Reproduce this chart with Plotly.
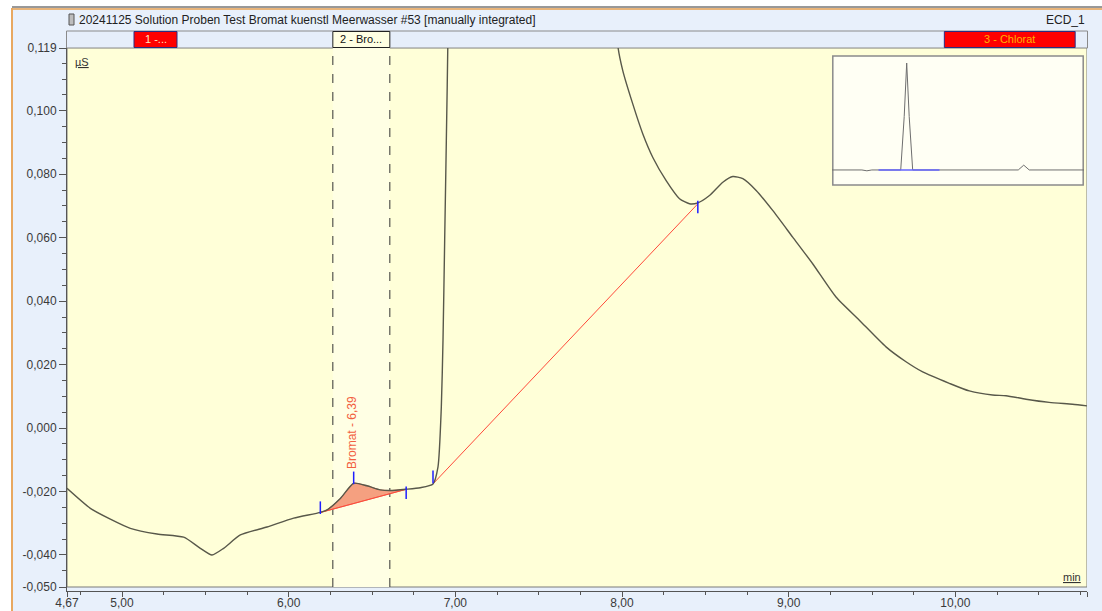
import plotly.graph_objects as go

# ---------------- data ----------------
time_min = [4.67, 4.81, 4.93, 5.05, 5.21, 5.37, 5.47, 5.54, 5.61, 5.71, 5.87, 6.03,
            6.19, 6.23, 6.31, 6.39, 6.47, 6.55, 6.61, 6.705, 6.79, 6.866, 6.896,
            6.916, 6.926, 6.936, 6.946, 6.955, 7.0, 7.1, 7.3, 7.5, 7.7, 7.9, 7.975,
            8.005, 8.065, 8.125, 8.185, 8.265, 8.345, 8.405, 8.455, 8.525, 8.605,
            8.665, 8.725, 8.805, 8.904, 9.024, 9.144, 9.284, 9.424, 9.584, 9.704,
            9.804, 9.964, 10.084, 10.223, 10.304, 10.424, 10.563, 10.703, 10.79]
signal_uS = [-0.0190, -0.0253, -0.0287, -0.0316, -0.0334, -0.0344, -0.0379, -0.0400,
             -0.0379, -0.0337, -0.0312, -0.0284, -0.0266, -0.0258, -0.0222, -0.0174,
             -0.0182, -0.0195, -0.0197, -0.0193, -0.0188, -0.0176, -0.0122, 0.0067,
             0.0277, 0.0591, 0.0906, 0.121, 0.4, 1.0, 1.6, 1.4, 0.6, 0.2, 0.1205,
             0.1126, 0.1021, 0.0927, 0.0853, 0.0780, 0.0723, 0.0707, 0.0710, 0.0733,
             0.0775, 0.0793, 0.0786, 0.0749, 0.0686, 0.0602, 0.0518, 0.0413, 0.0340,
             0.0256, 0.0209, 0.0177, 0.0141, 0.0117, 0.0104, 0.0102, 0.0091, 0.0081,
             0.0075, 0.0070]

# integration of Bromat
bromat_start = (6.19, -0.0266)
bromat_end = (6.705, -0.0193)
bromat_label = "Bromat - 6,39"
bromat_label_pos = (6.379, -0.0013)
# baseline of next peak
next_start = (6.866, -0.0176)
next_end = (8.455, 0.0707)

# peak marks (start, max, end, next start, next end)
mark_t = [6.19, 6.39, 6.705, 6.866, 8.455]
mark_v = [-0.0251, -0.0157, -0.0204, -0.0154, 0.0697]

# peak windows
win_names = ["1 -...", "2 - Bro...", "3 - Chlorat"]
win_start = [5.072, 6.265, 9.934]
win_end = [5.330, 6.607, 10.719]

# axes
x_range = [4.67, 10.79]
x_tickvals = [4.67, 5, 6, 7, 8, 9, 10, 10.79]
x_ticktext = ["4,67", "5,00", "6,00", "7,00", "8,00", "9,00", "10,00", "10,79"]
x_minor = [4.75 + 0.25 * i for i in range(25)]
y_top, y_bottom = 0.1198, -0.0501
y_tickvals = [0.1198, 0.1, 0.08, 0.06, 0.04, 0.02, 0.0, -0.02, -0.04, -0.0501]
y_ticktext = ["0,119", "0,100", "0,080", "0,060", "0,040", "0,020", "0,000",
              "-0,020", "-0,040", "-0,050"]
y_minor = [round(-0.045 + 0.005 * i, 4) for i in range(33)]

# overview inset (full chromatogram)
inset_t = [0, 3.0, 3.5, 4.0, 6.9, 7.25, 7.5, 7.75, 8.1, 18.7, 19.25, 19.8, 25.3]
inset_v = [0, 0, -0.08, 0, 0, 5, 10, 5, 0, 0, 0.45, 0, 0]
inset_window = [4.67, 10.79]

title = "20241125 Solution Proben Test Bromat kuenstl Meerwasser #53 [manually integrated]"
detector = "ECD_1"

# ---------------- layout helpers ----------------
W, H = 1102, 611
ML, MR, MT, MB = 67, 15, 48, 20
PW, PH = W - ML - MR, H - MT - MB


def px_x(px):
    return (px - ML) / PW


def px_y(py):
    return (H - MB - py) / PH


FONT = "Liberation Sans, Arial, sans-serif"
TXT = "#3a3a3a"
CURVE = "#58584a"

fig = go.Figure()

# Bromat area fill
seg = [(t, v) for t, v in zip(time_min, signal_uS) if bromat_start[0] <= t <= bromat_end[0]]
fx = [p[0] for p in seg] + [bromat_end[0], bromat_start[0]]
fy = [p[1] for p in seg] + [bromat_end[1], bromat_start[1]]
fig.add_trace(go.Scatter(x=fx, y=fy, fill="toself", fillcolor="#F5A080",
                         line=dict(color="#E8705A", width=1, shape="spline", smoothing=0.5),
                         mode="lines", hoverinfo="skip", showlegend=False))
# baselines
fig.add_trace(go.Scatter(x=[bromat_start[0], bromat_end[0]], y=[bromat_start[1], bromat_end[1]],
                         mode="lines", line=dict(color="#FF4A3A", width=1), showlegend=False))
fig.add_trace(go.Scatter(x=[next_start[0], next_end[0]], y=[next_start[1], next_end[1]],
                         mode="lines", line=dict(color="#FF4A3A", width=1), showlegend=False))
# chromatogram
fig.add_trace(go.Scatter(x=time_min, y=signal_uS, mode="lines",
                         line=dict(color=CURVE, width=1.4, shape="spline", smoothing=0.6),
                         showlegend=False))
# peak marks
fig.add_trace(go.Scatter(x=mark_t, y=mark_v, mode="markers",
                         marker=dict(symbol="line-ns", size=9,
                                     line=dict(color="#1E1EFF", width=1.5)),
                         showlegend=False))

# inset
fig.add_trace(go.Scatter(x=inset_t, y=inset_v, mode="lines", xaxis="x2", yaxis="y2",
                         line=dict(color="#6e6e6e", width=1), showlegend=False))
fig.add_trace(go.Scatter(x=inset_window, y=[0, 0], mode="lines", xaxis="x2", yaxis="y2",
                         line=dict(color="#6464FF", width=1.5), showlegend=False))

shapes = []
# panel background and frame lines
shapes.append(dict(type="rect", xref="paper", yref="paper", x0=px_x(12), x1=px_x(1102),
                   y0=px_y(611), y1=px_y(8), fillcolor="#E8F0FB", line=dict(width=0),
                   layer="below"))
shapes.append(dict(type="line", xref="paper", yref="paper", x0=px_x(12), x1=px_x(1102),
                   y0=px_y(7), y1=px_y(7), line=dict(color="#333333", width=1), layer="below"))
shapes.append(dict(type="line", xref="paper", yref="paper", x0=px_x(12), x1=px_x(1102),
                   y0=px_y(9), y1=px_y(9), line=dict(color="#E8B47A", width=2), layer="below"))
shapes.append(dict(type="line", xref="paper", yref="paper", x0=px_x(12), x1=px_x(12),
                   y0=px_y(611), y1=px_y(8), line=dict(color="#E8A860", width=2), layer="below"))
# title icon
shapes.append(dict(type="rect", xref="paper", yref="paper", x0=px_x(69), x1=px_x(74),
                   y0=px_y(25), y1=px_y(14), fillcolor="#BDBDBD",
                   line=dict(color="#555555", width=1), layer="below"))
# peak window band
shapes.append(dict(type="rect", xref="paper", yref="paper", x0=px_x(66.5), x1=px_x(1087.5),
                   y0=px_y(48), y1=px_y(31), fillcolor="#E6EEFA",
                   line=dict(color="#8a8a8a", width=1), layer="below"))
win_fill = ["#FF0000", "#FFFFE2", "#FF0000"]
win_line = ["#2c2c80", "#222222", "#2c2c80"]
for s, e, fc, lc in zip(win_start, win_end, win_fill, win_line):
    shapes.append(dict(type="rect", xref="x", yref="paper", x0=s, x1=e,
                       y0=px_y(47.5), y1=px_y(31.5), fillcolor=fc,
                       line=dict(color=lc, width=1), layer="below"))
# plot area
shapes.append(dict(type="rect", xref="x", yref="y", x0=x_range[0], x1=x_range[1],
                   y0=y_bottom, y1=y_top, fillcolor="#FFFFD8",
                   line=dict(color="#7a7a7a", width=1), layer="below"))
shapes.append(dict(type="rect", xref="x", yref="y", x0=win_start[1], x1=win_end[1],
                   y0=y_bottom, y1=y_top, fillcolor="#FFFFE4", line=dict(width=0),
                   layer="below"))
for xv in (win_start[1], win_end[1]):
    shapes.append(dict(type="line", xref="x", yref="y", x0=xv, x1=xv, y0=y_bottom, y1=y_top,
                       line=dict(color="#333333", width=1, dash="dash"), layer="below"))
# inset box
shapes.append(dict(type="rect", xref="x2", yref="y2", x0=0.08, x1=25.22, y0=-1.4, y1=10.65,
                   fillcolor="#FFFFF4", line=dict(color="#8a8a8a", width=1.5), layer="below"))

annotations = [
    dict(text=title, x=px_x(77), y=px_y(20), xref="paper", yref="paper", xanchor="left",
         yanchor="middle", showarrow=False, font=dict(size=12, color="#222222", family=FONT)),
    dict(text=detector, x=px_x(1087), y=px_y(20), xref="paper", yref="paper", xanchor="right",
         yanchor="middle", showarrow=False, font=dict(size=12, color="#222222", family=FONT)),
    dict(text="<u>µS</u>", x=px_x(73), y=px_y(62), xref="paper", yref="paper", xanchor="left",
         yanchor="middle", showarrow=False, font=dict(size=11, color="#333333", family=FONT)),
    dict(text="<u>min</u>", x=px_x(1083), y=px_y(577), xref="paper", yref="paper",
         xanchor="right", yanchor="middle", showarrow=False,
         font=dict(size=11, color="#333333", family=FONT)),
    dict(text=bromat_label, x=bromat_label_pos[0], y=bromat_label_pos[1], xref="x", yref="y",
         textangle=-90, xanchor="center", yanchor="middle", showarrow=False,
         font=dict(size=12, color="#F2603F", family=FONT)),
]
win_text_col = ["#FFE6C0", "#111111", "#FFB000"]
for name, s, e, c in zip(win_names, win_start, win_end, win_text_col):
    annotations.append(dict(text=name, x=(s + e) / 2, y=px_y(39.5), xref="x", yref="paper",
                            xanchor="center", yanchor="middle", showarrow=False,
                            font=dict(size=11, color=c, family=FONT)))

axis_font = dict(size=12, color=TXT, family=FONT)
fig.update_layout(
    width=W, height=H,
    margin=dict(l=ML, r=MR, t=MT, b=MB, pad=0),
    paper_bgcolor="white", plot_bgcolor="rgba(0,0,0,0)",
    shapes=shapes, annotations=annotations, showlegend=False,
    font=dict(family=FONT),
    xaxis=dict(range=x_range, tickmode="array", tickvals=x_tickvals, ticktext=x_ticktext,
               ticks="outside", ticklen=5, tickcolor="#555555", tickwidth=1,
               ticklabelstandoff=-4,
               minor=dict(tickmode="array", tickvals=x_minor, ticks="outside", ticklen=3,
                          tickcolor="#555555", showgrid=False),
               showline=True, linecolor="#555555", linewidth=1, showgrid=False,
               zeroline=False, tickfont=axis_font, fixedrange=True, automargin=False),
    yaxis=dict(range=[y_bottom - 4 / 3172.5, y_top], tickmode="array", tickvals=y_tickvals,
               ticktext=y_ticktext, ticks="outside", ticklen=7, tickcolor="#555555",
               tickwidth=1,
               minor=dict(tickmode="array", tickvals=y_minor, ticks="outside", ticklen=4,
                          tickcolor="#555555", showgrid=False),
               showline=True, linecolor="#555555", linewidth=1, showgrid=False,
               zeroline=False, tickfont=axis_font, fixedrange=True, automargin=False),
    xaxis2=dict(domain=[px_x(832), px_x(1084)], range=[0, 25.3], anchor="y2",
                visible=False, fixedrange=True),
    yaxis2=dict(domain=[px_y(186), px_y(55)], range=[-1.5, 10.75], anchor="x2",
                visible=False, fixedrange=True),
)

fig.write_html("out.html")
